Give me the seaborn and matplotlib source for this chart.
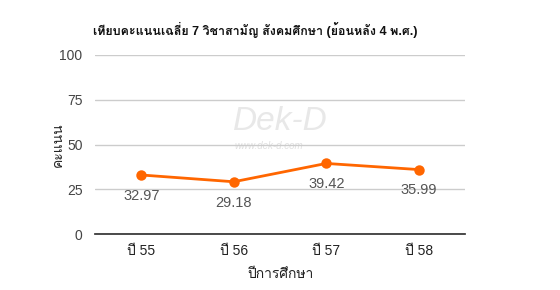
import matplotlib
matplotlib.use("Agg")
import matplotlib.pyplot as plt
import seaborn as sns
import pandas as pd

years = ["ปี 55", "ปี 56", "ปี 57", "ปี 58"]
scores = [32.97, 29.18, 39.42, 35.99]
yticks = [0, 25, 50, 75, 100]
title = "เทียบคะแนนเฉลี่ย 7 วิชาสามัญ สังคมศึกษา (ย้อนหลัง 4 พ.ศ.)"
xlabel = "ปีการศึกษา"
ylabel = "คะแนน"

sns.set_theme(style="white")
plt.rcParams["font.family"] = ["Liberation Sans", "Loma", "DejaVu Sans"]

df = pd.DataFrame({"year": years, "score": scores})
fig = plt.figure(figsize=(5.6, 2.9), dpi=100)
ax = fig.add_axes([95/560, (290-234)/290, 370/560, 179/290])
sns.pointplot(data=df, x="year", y="score", color="#ff6600", ax=ax,
              markers="o", markersize=6, linewidth=2, errorbar=None)
ax.set_ylim(0, 100)
ax.set_xlim(-0.5, 3.5)
ax.set_yticks(yticks)
ax.grid(axis="y", color="#cccccc", linewidth=1)
ax.set_axisbelow(True)
for s in ["top", "right", "left"]:
    ax.spines[s].set_visible(False)
ax.spines["bottom"].set_color("#333333")
ax.tick_params(axis="both", length=0, labelsize=10)
ax.tick_params(axis="y", colors="#444444", pad=9)
ax.tick_params(axis="x", colors="#222222", pad=7)
for i, v in enumerate(scores):
    ax.annotate(f"{v:.2f}", (i, v), xytext=(0, -10), textcoords="offset points",
                ha="center", va="top", fontsize=10.5, color="#555555")
ax.set_xlabel(xlabel, fontsize=10, color="#222222", labelpad=7)
ax.set_ylabel("")
fig.text(58/560, 1 - 145/290, ylabel, rotation=90, ha="center", va="center",
         fontsize=10, color="#222222")
ax.text(0.5, 0.63, "Dek-D", transform=ax.transAxes, ha="center", va="center",
        fontsize=24, style="italic", color="#e8e8e8", zorder=0)
ax.text(0.47, 0.49, "www.dek-d.com", transform=ax.transAxes, ha="center", va="center",
        fontsize=7, style="italic", color="#e0e0e0", zorder=0)
fig.text(93/560, 1 - 30/290, title, fontsize=9, fontweight="bold", ha="left", va="center", color="#111111")
fig.savefig("out.png", dpi=100)
